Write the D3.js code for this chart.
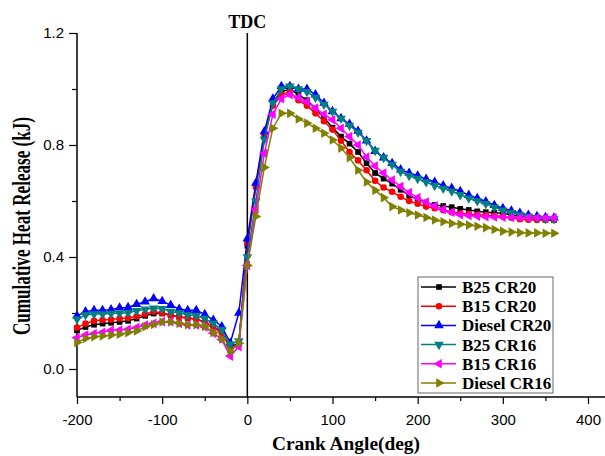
<!DOCTYPE html>
<html>
<head>
<meta charset="utf-8">
<script src="https://cdn.jsdelivr.net/npm/d3@7"></script>
<style>
  body { margin: 0; background: #fff; }
  .tick text { font-family: "Liberation Sans", Arial, sans-serif; font-size: 15px; fill: #000; }
  .ttl { font-family: "Liberation Serif", "Times New Roman", serif; font-weight: bold; fill: #000; }
</style>
</head>
<body>
<div id="chart"></div>
<script>
// crank angle (deg)
var angles = [-200,-190,-180,-170,-160,-150,-140,-130,-120,-110,
  -100,-90,-80,-70,-60,-50,-40,-30,-20,-10,
  0,10,20,30,40,50,60,70,80,90,
  100,110,120,130,140,150,160,170,180,190,
  200,210,220,230,240,250,260,270,280,290,
  300,310,320,330,340,350,360];

// cumulative heat release (kJ)
var b25cr20 = [0.138,0.150,0.158,0.162,0.165,0.168,0.172,0.180,0.190,0.198,
  0.198,0.192,0.186,0.182,0.178,0.168,0.150,0.130,0.080,0.090,
  0.440,0.655,0.830,0.950,0.990,1.000,0.980,0.960,0.930,0.898,
  0.862,0.830,0.805,0.775,0.735,0.700,0.680,0.662,0.640,0.620,
  0.605,0.595,0.586,0.582,0.578,0.572,0.568,0.563,0.560,0.558,
  0.556,0.550,0.545,0.540,0.535,0.533,0.532];
var b15cr20 = [0.148,0.162,0.172,0.175,0.177,0.180,0.182,0.188,0.196,0.205,
  0.200,0.192,0.186,0.183,0.178,0.168,0.150,0.128,0.075,0.090,
  0.450,0.650,0.840,0.940,0.980,0.990,0.960,0.940,0.913,0.885,
  0.855,0.815,0.775,0.745,0.710,0.672,0.648,0.633,0.615,0.600,
  0.590,0.580,0.574,0.567,0.560,0.556,0.553,0.551,0.549,0.547,
  0.545,0.540,0.535,0.533,0.532,0.532,0.532];
var dieselcr20 = [0.190,0.205,0.210,0.210,0.212,0.219,0.220,0.231,0.240,0.252,
  0.242,0.228,0.214,0.210,0.210,0.195,0.175,0.152,0.093,0.200,
  0.465,0.664,0.848,0.965,1.010,1.010,1.000,1.000,0.980,0.950,
  0.920,0.895,0.875,0.850,0.815,0.778,0.755,0.735,0.712,0.700,
  0.690,0.678,0.668,0.655,0.646,0.635,0.621,0.610,0.598,0.585,
  0.574,0.565,0.557,0.550,0.545,0.542,0.540];
var b25cr16 = [0.178,0.193,0.196,0.196,0.198,0.199,0.201,0.208,0.213,0.217,
  0.215,0.205,0.200,0.193,0.190,0.180,0.163,0.140,0.088,0.100,
  0.400,0.600,0.820,0.950,1.000,1.010,1.000,0.990,0.970,0.945,
  0.920,0.895,0.870,0.845,0.815,0.780,0.755,0.730,0.705,0.690,
  0.680,0.668,0.655,0.645,0.635,0.622,0.610,0.600,0.590,0.578,
  0.567,0.558,0.550,0.545,0.540,0.537,0.536];
var b15cr16 = [0.112,0.121,0.127,0.131,0.138,0.139,0.142,0.148,0.157,0.163,
  0.169,0.169,0.163,0.157,0.157,0.150,0.128,0.105,0.046,0.080,
  0.370,0.570,0.770,0.910,0.965,0.980,0.970,0.955,0.932,0.910,
  0.890,0.860,0.830,0.800,0.757,0.725,0.700,0.675,0.652,0.630,
  0.612,0.596,0.582,0.570,0.560,0.551,0.548,0.546,0.544,0.543,
  0.542,0.541,0.540,0.540,0.540,0.540,0.540];
var dieselcr16 = [0.095,0.109,0.115,0.118,0.121,0.124,0.130,0.136,0.151,0.159,
  0.168,0.168,0.163,0.158,0.158,0.152,0.130,0.107,0.062,0.092,
  0.370,0.545,0.720,0.860,0.913,0.913,0.893,0.878,0.860,0.842,
  0.818,0.789,0.755,0.710,0.668,0.638,0.612,0.580,0.568,0.558,
  0.550,0.541,0.532,0.526,0.520,0.517,0.514,0.510,0.505,0.498,
  0.492,0.489,0.487,0.486,0.486,0.485,0.485];

var seriesNames = ["B25 CR20", "B15 CR20", "Diesel CR20", "B25 CR16", "B15 CR16", "Diesel CR16"];
var seriesValues = [b25cr20, b15cr20, dieselcr20, b25cr16, b15cr16, dieselcr16];
var colors = ["#000000", "#ff0000", "#0000ff", "#008080", "#ff00ff", "#808000"];

var xTicks = [-200, -100, 0, 100, 200, 300, 400];
var yTicks = [0.0, 0.4, 0.8, 1.2];

var svgWidth = 605, svgHeight = 456;
var svg = d3.select("#chart").append("svg")
  .attr("width", svgWidth)
  .attr("height", svgHeight);

var x = d3.scaleLinear().domain([-200, 400]).range([77, 588]);
var y = d3.scaleLinear().domain([-0.1, 1.2]).range([397, 33]);

// marker shapes: square, circle, up/down/left/right triangles
var markers = [
  {type: d3.symbolSquare, size: 32, rot: 0},
  {type: d3.symbolCircle, size: 34, rot: 0},
  {type: d3.symbolTriangle, size: 40, rot: 0},
  {type: d3.symbolTriangle, size: 40, rot: 180},
  {type: d3.symbolTriangle, size: 40, rot: -90},
  {type: d3.symbolTriangle, size: 40, rot: 90}
];

// minor ticks
svg.append("g")
  .attr("transform", "translate(0,397)")
  .call(d3.axisBottom(x).tickValues([-150, -50, 50, 150, 250, 350]).tickSize(4).tickFormat(""))
  .call(g => g.select(".domain").remove());
svg.append("g")
  .attr("transform", "translate(77,0)")
  .call(d3.axisLeft(y).tickValues([0.2, 0.6, 1.0]).tickSize(5).tickFormat(""))
  .call(g => g.select(".domain").remove());

// major ticks
var xAxis = svg.append("g")
  .attr("transform", "translate(0,397)")
  .call(d3.axisBottom(x).tickValues(xTicks).tickSize(7).tickPadding(10).tickFormat(d => String(d)));
xAxis.select(".domain").remove();

var yAxis = svg.append("g")
  .attr("transform", "translate(77,0)")
  .call(d3.axisLeft(y).tickValues(yTicks).tickSize(8).tickPadding(5).tickFormat(d => d.toFixed(1)));
yAxis.select(".domain").remove();

svg.selectAll(".tick line").attr("stroke", "#000").attr("stroke-width", 1.2);

// axis lines
svg.append("line").attr("x1", 77).attr("x2", 605).attr("y1", 397).attr("y2", 397)
  .attr("stroke", "#000").attr("stroke-width", 1.5);
svg.append("line").attr("x1", 77).attr("x2", 77).attr("y1", 33).attr("y2", 397)
  .attr("stroke", "#000").attr("stroke-width", 1.5);

// TDC line
svg.append("line").attr("x1", x(0)).attr("x2", x(0)).attr("y1", y(1.2)).attr("y2", 397)
  .attr("stroke", "#000").attr("stroke-width", 1.5);
svg.append("text").attr("class", "ttl")
  .attr("x", x(0)).attr("y", 28)
  .attr("text-anchor", "middle")
  .attr("font-size", "18px")
  .text("TDC");

// curves
var line = d3.line().x(d => x(d[0])).y(d => y(d[1]));
seriesValues.forEach(function(vals, i) {
  var pts = angles.map((a, j) => [a, vals[j]]);
  var g = svg.append("g");
  g.append("path")
    .attr("d", line(pts))
    .attr("fill", "none")
    .attr("stroke", colors[i])
    .attr("stroke-width", 1.5);
  var m = markers[i];
  g.selectAll("path.mk")
    .data(pts)
    .enter()
    .append("path")
    .attr("class", "mk")
    .attr("d", d3.symbol().type(m.type).size(m.size))
    .attr("transform", d => `translate(${x(d[0])},${y(d[1])}) rotate(${m.rot})`)
    .attr("fill", colors[i]);
});

// axis titles
svg.append("text").attr("class", "ttl")
  .attr("transform", "translate(30,226) rotate(-90)")
  .attr("text-anchor", "middle")
  .attr("font-size", "26px")
  .attr("textLength", 218)
  .attr("lengthAdjust", "spacingAndGlyphs")
  .text("Cumulative Heat Release (kJ)");

svg.append("text").attr("class", "ttl")
  .attr("x", 346).attr("y", 450)
  .attr("text-anchor", "middle")
  .attr("font-size", "18px")
  .attr("textLength", 148)
  .attr("lengthAdjust", "spacingAndGlyphs")
  .text("Crank Angle(deg)");

// legend
var legend = svg.append("g");
legend.append("rect")
  .attr("x", 418).attr("y", 277)
  .attr("width", 135).attr("height", 116)
  .attr("fill", "#fff")
  .attr("stroke", "#666")
  .attr("stroke-width", 1);
seriesNames.forEach(function(name, i) {
  var cy = 287 + i * 19.2;
  legend.append("line")
    .attr("x1", 421).attr("x2", 456).attr("y1", cy).attr("y2", cy)
    .attr("stroke", colors[i]).attr("stroke-width", 1.5);
  legend.append("path")
    .attr("d", d3.symbol().type(markers[i].type).size(markers[i].size))
    .attr("transform", `translate(439,${cy}) rotate(${markers[i].rot})`)
    .attr("fill", colors[i]);
  legend.append("text").attr("class", "ttl")
    .attr("x", 462).attr("y", cy + 6)
    .attr("font-size", "17px")
    .text(name);
});
</script>
</body>
</html>
